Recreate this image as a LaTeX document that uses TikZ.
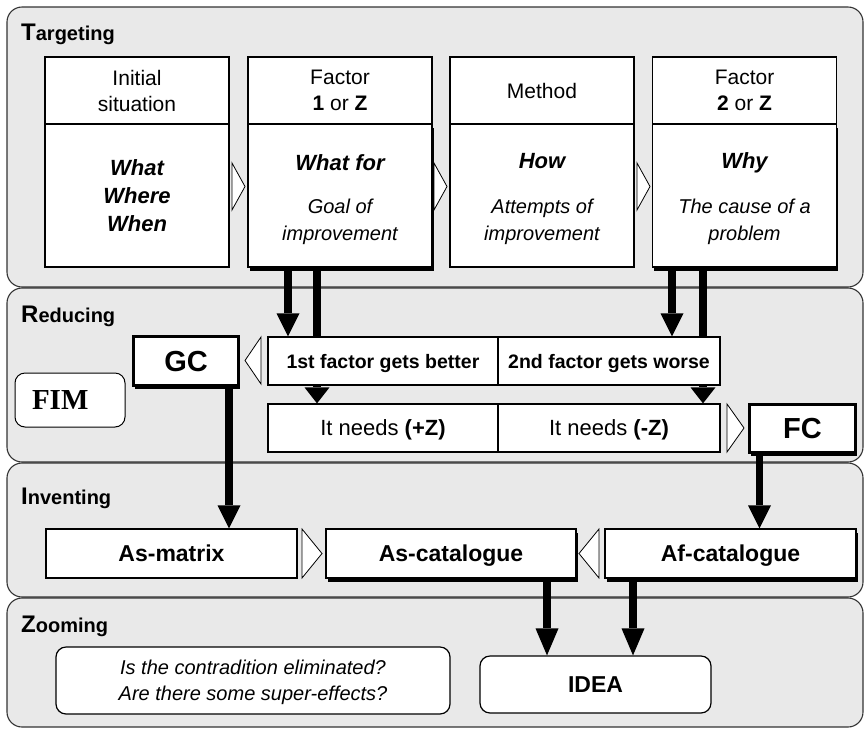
\documentclass[tikz,border=0pt]{standalone}
\usepackage{fontspec}
\setmainfont{Liberation Sans}
\newfontfamily\serifface{Liberation Serif}
\usetikzlibrary{arrows.meta,shadows}
\definecolor{panelgray}{HTML}{E9E9E9}
\newcommand\fsz[2]{\fontsize{#1}{#2}\selectfont}
\pgfdeclarelayer{panels}
\pgfdeclarelayer{links}
\pgfsetlayers{panels,links,main}

\begin{document}
\begin{tikzpicture}[x=1pt,y=-1pt,
  panel/.style={draw=black!80,line width=1.1pt,fill=panelgray,rounded corners=15pt},
  title/.style={anchor=base west,inner sep=0pt,font=\bfseries},
  box/.style={draw=black,line width=1.5pt,fill=white,inner sep=0pt,text depth=0pt,align=center},
  shade/.style={drop shadow={shadow xshift=1.5pt,shadow yshift=-3.5pt,fill=black,opacity=1}},
  lbl/.style={anchor=base,inner sep=0pt},
  hollow/.style={draw=black,line width=0.8pt,fill=white,line join=miter},
  link/.style={line width=7.5pt,-{Triangle[width=23pt,length=23pt,line width=0pt]}},
  shortlink/.style={line width=7.5pt,-{Triangle[width=25pt,length=16pt,line width=0pt]}},
  longlink/.style={line width=7.5pt,-{Triangle[width=23pt,length=27pt,line width=0pt]}},
]
\useasboundingbox (0,0) rectangle (865,729);

% ---------- stage panels ----------
\begin{pgfonlayer}{panels}
  \draw[panel] (7,7)   rectangle (863,287);
  \draw[panel] (7,288) rectangle (863,462);
  \draw[panel] (7,463) rectangle (863,597);
  \draw[panel] (7,598) rectangle (863,727);
\end{pgfonlayer}

\node[title] (tT) at (21,40)  {\fsz{24}{28}T\fsz{20}{24}argeting};
\node[title] (tR) at (21,322) {\fsz{24}{28}R\fsz{20}{24}educing};
\node[title] (tI) at (21,504) {\fsz{24}{28}I\fsz{20}{24}nventing};
\node[title] (tZ) at (21,632) {\fsz{24}{28}Z\fsz{20}{24}ooming};

% ---------- Targeting ----------
\tikzset{head/.style={box,minimum width=184pt,minimum height=67pt,font=\fsz{21}{26}},
         body/.style={box,minimum width=184pt,minimum height=143pt}}
\node[body,font=\bfseries\itshape\fsz{22}{28}] (b1) at (137,195.5) {What\\Where\\When};
\node[head] (h1) at (137,90.5) {Initial\\situation};

\node[body,shade] (b2) at (340,195.5) {};
\node[head] (h2) at (340,90.5) {Factor\\\textbf{1} or \textbf{Z}};

\node[body] (b3) at (542,195.5) {};
\node[head] (h3) at (542,90.5) {Method};

\node[body,shade] (b4) at (744.5,195.5) {};
\node[head] (h4) at (744.5,90.5) {Factor\\\textbf{2} or \textbf{Z}};

\tikzset{key/.style={lbl,font=\bfseries\itshape\fsz{22}{26}},
         note/.style={lbl,font=\itshape\fsz{20}{26}}}
\node[key]  (w2) at (340,170) {What for};
\node[note] (g2a) at (340,213) {Goal of};
\node[note] (g2b) at (340,240) {improvement};
\node[key]  (w3) at (542,168) {How};
\node[note] (g3a) at (542,213) {Attempts of};
\node[note] (g3b) at (542,240) {improvement};
\node[key]  (w4) at (744.5,168) {Why};
\node[note] (g4a) at (744.5,213) {The cause of a};
\node[note] (g4b) at (744.5,240) {problem};

\draw[hollow] (232,163) -- (245,186.5) -- (232,210) -- cycle;
\draw[hollow] (434,163) -- (447,186.5) -- (434,210) -- cycle;
\draw[hollow] (637,163) -- (650,186.5) -- (637,210) -- cycle;

% ---------- Reducing ----------
\tikzset{cell/.style={box,line width=1.2pt,minimum height=48pt}}
\node[cell,minimum width=230pt,font=\bfseries\fsz{19.5}{23}] (r1) at (383,361) {1st factor gets better};
\node[cell,minimum width=222pt,font=\bfseries\fsz{19.5}{23}] (r2) at (609,361) {2nd factor gets worse};
\node[cell,minimum width=230pt,font=\fsz{22}{26}] (n1) at (383,428) {It needs \textbf{(+Z)}};
\node[cell,minimum width=222pt,font=\fsz{22}{26}] (n2) at (609,428) {It needs \textbf{(-Z)}};

\node[box,shade,line width=2.5pt,minimum width=105pt,minimum height=49pt,font=\bfseries\fsz{29}{32}] (gc) at (186,361) {GC};
\node[box,shade,line width=2.5pt,minimum width=106pt,minimum height=48pt,font=\bfseries\fsz{29}{32}] (fc) at (802.5,428.5) {FC};
\node[box,line width=1pt,rounded corners=10pt,minimum height=54pt,inner xsep=17pt,text width=76pt,align=left,
      font=\serifface\bfseries\fsz{29}{32}] (fim) at (70,400) {FIM};

\draw[hollow] (261,337) -- (245,360.5) -- (261,384) -- cycle;
\draw[hollow] (727,404) -- (744,428) -- (727,452) -- cycle;

% ---------- Inventing ----------
\tikzset{cat/.style={box,line width=1.2pt,minimum height=49pt,font=\bfseries\fsz{23}{26}}}
\node[cat,minimum width=251pt] (asm) at (171.5,553.5) {As-matrix};
\node[cat,shade,minimum width=250pt] (asc) at (451,553.5) {As-catalogue};
\node[cat,shade,minimum width=251pt] (afc) at (730.5,553.5) {Af-catalogue};

\draw[hollow] (302,529) -- (322,553.5) -- (302,578) -- cycle;
\draw[hollow] (599,529) -- (579,553.5) -- (599,578) -- cycle;

% ---------- Zooming ----------
\node[box,line width=1.2pt,rounded corners=10pt,minimum width=394pt,minimum height=67pt,
      font=\itshape\fsz{20}{26}] (q) at (253,680.5)
      {Is the contradition eliminated?\\Are there some super-effects?};
\node[box,line width=1.2pt,rounded corners=10pt,minimum width=231pt,minimum height=57pt,
      font=\bfseries\fsz{23}{26}] (idea) at (595.5,684.5) {IDEA};

% ---------- connectors ----------
\coordinate (xa) at (288,0);
\coordinate (xb) at (317,0);
\coordinate (xc) at (672,0);
\coordinate (xd) at (703,0);
\coordinate (xe) at (229,0);
\coordinate (xf) at (759.5,0);
\coordinate (xg) at (547,0);
\coordinate (xh) at (633,0);

\begin{pgfonlayer}{links}
  \draw[link]      (b2.south -| xa) -- (r1.north -| xa);
  \draw[shortlink] (b2.south -| xb) -- (n1.north -| xb);
  \draw[link]      (b4.south -| xc) -- (r2.north -| xc);
  \draw[shortlink] (b4.south -| xd) -- (n2.north -| xd);
  \draw[link]      (gc.south -| xe) -- (asm.north -| xe);
  \draw[link]      (fc.south -| xf) -- (afc.north -| xf);
  \draw[longlink]  (asc.south -| xg) -- (idea.north -| xg);
  \draw[longlink]  (afc.south -| xh) -- (idea.north -| xh);
\end{pgfonlayer}
\end{tikzpicture}
\end{document}
